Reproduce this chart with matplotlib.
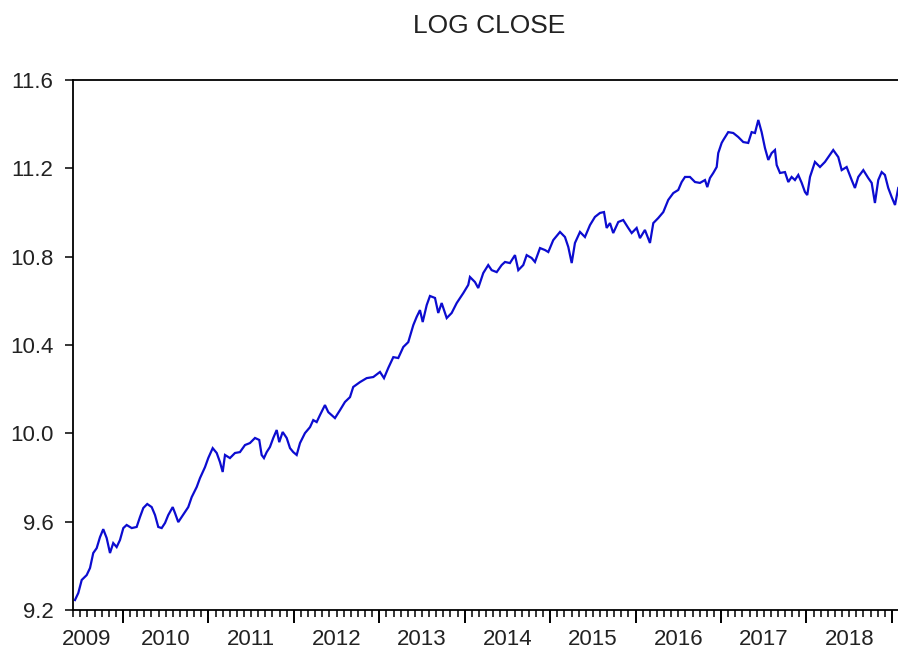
import matplotlib
matplotlib.use("Agg")
import matplotlib.pyplot as plt
import numpy as np

plt.rcParams['font.family'] = ['Liberation Sans', 'DejaVu Sans']

title = "LOG CLOSE"

# dates as decimal years
t_years = [
    2009.438, 2009.477, 2009.517, 2009.575, 2009.614, 2009.652, 2009.692, 2009.731, 2009.769, 2009.809,
    2009.848, 2009.886, 2009.926, 2009.965,
    2010.004, 2010.043, 2010.102, 2010.160, 2010.199, 2010.238, 2010.284, 2010.336, 2010.375, 2010.413,
    2010.453, 2010.492, 2010.530, 2010.582, 2010.609, 2010.647, 2010.687, 2010.726, 2010.764, 2010.804,
    2010.863, 2010.901, 2010.960, 2010.998,
    2011.050, 2011.097, 2011.135, 2011.167, 2011.194, 2011.252, 2011.311, 2011.369, 2011.428, 2011.486,
    2011.545, 2011.595, 2011.623, 2011.650, 2011.682, 2011.720, 2011.759, 2011.799, 2011.829, 2011.869,
    2011.916, 2011.955, 2011.993,
    2012.033, 2012.072, 2012.130, 2012.189, 2012.227, 2012.267, 2012.306, 2012.364, 2012.403, 2012.481,
    2012.540, 2012.598, 2012.657, 2012.695, 2012.774, 2012.852, 2012.930,
    2013.008, 2013.055, 2013.105, 2013.164, 2013.222, 2013.281, 2013.339, 2013.398, 2013.437, 2013.476,
    2013.508, 2013.555, 2013.593, 2013.652, 2013.690, 2013.730, 2013.789, 2013.847, 2013.906, 2013.983,
    2014.041, 2014.061, 2014.120, 2014.158, 2014.217, 2014.275, 2014.315, 2014.374, 2014.432, 2014.471,
    2014.529, 2014.588, 2014.627, 2014.685, 2014.725, 2014.783, 2014.822, 2014.881, 2014.939, 2014.978,
    2015.036, 2015.115, 2015.173, 2015.212, 2015.252, 2015.290, 2015.349, 2015.407, 2015.466, 2015.524,
    2015.583, 2015.630, 2015.661, 2015.700, 2015.738, 2015.797, 2015.855, 2015.914, 2015.954,
    2016.012, 2016.051, 2016.109, 2016.168, 2016.207, 2016.265, 2016.324, 2016.382, 2016.441, 2016.499,
    2016.539, 2016.578, 2016.636, 2016.695, 2016.753, 2016.812, 2016.839, 2016.870, 2016.909, 2016.949,
    2016.967,
    2017.007, 2017.026, 2017.084, 2017.143, 2017.201, 2017.260, 2017.318, 2017.358, 2017.397, 2017.436,
    2017.475, 2017.514, 2017.553, 2017.592, 2017.631, 2017.651, 2017.690, 2017.748, 2017.787, 2017.826,
    2017.865, 2017.904, 2017.944, 2017.982,
    2018.009, 2018.041, 2018.099, 2018.158, 2018.216, 2018.255, 2018.313, 2018.372, 2018.412, 2018.470,
    2018.529, 2018.567, 2018.606, 2018.665, 2018.723, 2018.763, 2018.801, 2018.840, 2018.880, 2018.918,
    2018.957, 2018.997, 2019.036, 2019.074,
]

log_close = [
    9.245, 9.277, 9.336, 9.358, 9.390, 9.458, 9.480, 9.530, 9.566, 9.526,
    9.458, 9.503, 9.485, 9.517,
    9.571, 9.585, 9.571, 9.576, 9.621, 9.662, 9.680, 9.666, 9.630, 9.576,
    9.571, 9.594, 9.630, 9.666, 9.639, 9.598, 9.621, 9.643, 9.666, 9.711,
    9.757, 9.797, 9.847, 9.888,
    9.933, 9.911, 9.870, 9.825, 9.902, 9.888, 9.911, 9.915, 9.947, 9.956,
    9.979, 9.970, 9.902, 9.888, 9.915, 9.938, 9.979, 10.015, 9.960, 10.006,
    9.979, 9.933, 9.915,
    9.902, 9.956, 10.001, 10.028, 10.060, 10.051, 10.083, 10.128, 10.096, 10.069,
    10.105, 10.142, 10.164, 10.210, 10.232, 10.250, 10.255,
    10.278, 10.250, 10.296, 10.345, 10.341, 10.391, 10.413, 10.490, 10.527, 10.558,
    10.504, 10.581, 10.622, 10.613, 10.545, 10.590, 10.522, 10.545, 10.590, 10.635,
    10.672, 10.708, 10.685, 10.658, 10.726, 10.762, 10.739, 10.730, 10.762, 10.776,
    10.771, 10.807, 10.739, 10.762, 10.807, 10.794, 10.776, 10.839, 10.830, 10.821,
    10.875, 10.912, 10.889, 10.844, 10.771, 10.862, 10.912, 10.889, 10.943, 10.980,
    10.998, 11.002, 10.930, 10.952, 10.907, 10.957, 10.966, 10.930, 10.907,
    10.930, 10.884, 10.921, 10.862, 10.952, 10.975, 11.002, 11.057, 11.088, 11.102,
    11.138, 11.161, 11.161, 11.138, 11.134, 11.147, 11.115, 11.156, 11.179, 11.206,
    11.269,
    11.315, 11.328, 11.364, 11.360, 11.342, 11.319, 11.315, 11.364, 11.360, 11.419,
    11.364, 11.292, 11.238, 11.269, 11.283, 11.215, 11.179, 11.183, 11.138, 11.161,
    11.147, 11.170, 11.134, 11.093,
    11.079, 11.161, 11.229, 11.206, 11.229, 11.251, 11.283, 11.251, 11.192, 11.206,
    11.147, 11.111, 11.161, 11.192, 11.156, 11.134, 11.043, 11.147, 11.183, 11.170,
    11.111, 11.070, 11.034, 11.111,
]

year_labels = ["2009", "2010", "2011", "2012", "2013", "2014", "2015", "2016", "2017", "2018"]
y_ticks = [9.2, 9.6, 10.0, 10.4, 10.8, 11.2, 11.6]

W, H = 898, 650
fig = plt.figure(figsize=(W / 100, H / 100), dpi=100)
L, R, T, B = 73, 905, 80, 610
ax = fig.add_axes([L / W, (H - B) / H, (R - L) / W, (B - T) / H])

ax.plot(t_years, log_close, color='#0c0cd0', lw=1.6, solid_joinstyle='miter')

text_color = '#222222'
ax.set_yticks(y_ticks)
ax.set_yticklabels([f"{v:.1f}" for v in y_ticks])
ax.tick_params(axis='y', direction='out', length=6, width=1.1, pad=8,
               labelsize=16, labelcolor=text_color)

years_major = np.arange(2010, 2020)
ax.set_xticks(years_major)
ax.set_xticklabels([])
months = [y + m / 12 for y in range(2009, 2020) for m in range(1, 12)]
ax.set_xticks(months, minor=True)
ax.tick_params(axis='x', which='major', direction='out', length=9, width=1.4)
ax.tick_params(axis='x', which='minor', direction='out', length=5, width=1.1)

x_lo, x_hi = 2009.415, 2019.153
ax.set_xlim(x_lo, x_hi)
ax.set_ylim(9.2, 11.6)

sec = ax.secondary_xaxis('bottom')
label_pos = [int(y) + 0.5 for y in year_labels]
label_pos[0] = 2009.57
sec.set_xticks(label_pos)
sec.set_xticklabels(year_labels)
sec.tick_params(length=0, pad=14, labelsize=16, labelcolor=text_color)
sec.spines['bottom'].set_visible(False)

ax.set_xlim(x_lo, x_hi)

for s in ['left', 'top', 'bottom']:
    ax.spines[s].set_linewidth(1.3)
    ax.spines[s].set_color('black')
ax.spines['right'].set_visible(False)

ax.set_title(title, fontsize=19, color=text_color, pad=34)

fig.savefig("out.png", dpi=100)
